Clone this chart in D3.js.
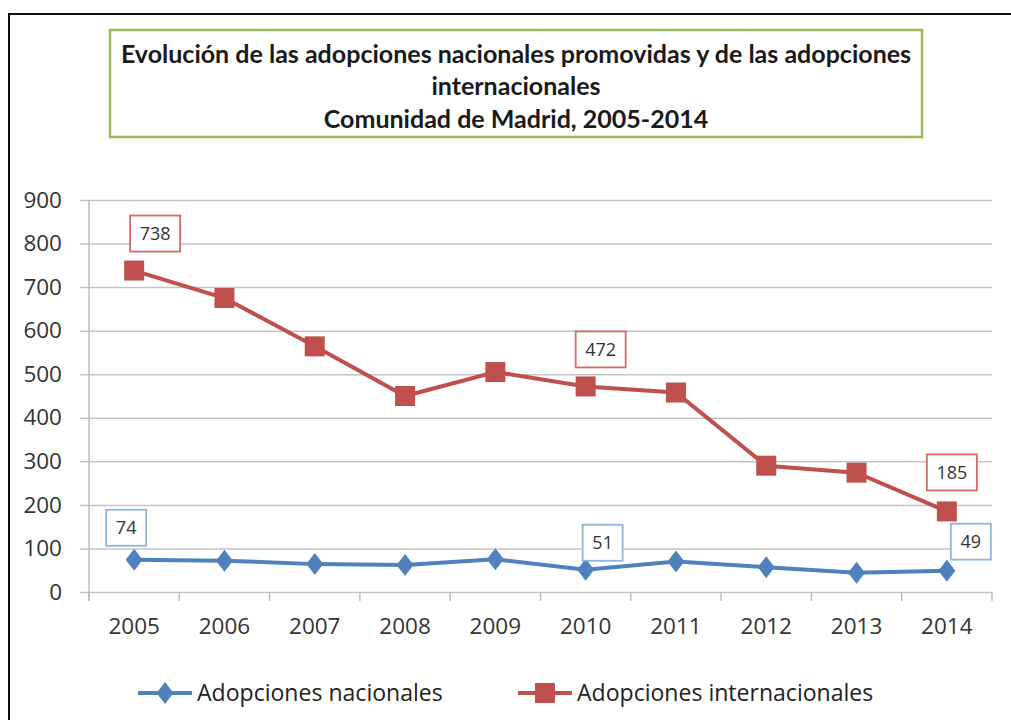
<!DOCTYPE html>
<html>
<head>
<meta charset="utf-8">
<script src="https://cdn.jsdelivr.net/npm/d3@7"></script>
<style>
  body { margin: 0; background: #fff; }
  svg { display: block; font-family: "Open Sans", sans-serif; }
</style>
</head>
<body>
<div id="chart"></div>
<script>
// data
var years = ["2005", "2006", "2007", "2008", "2009", "2010", "2011", "2012", "2013", "2014"];
var nacionales = [74, 72, 64, 62, 75, 51, 70, 57, 44, 49];
var internacionales = [738, 675, 564, 450, 505, 472, 458, 290, 274, 185];
var yTicks = [0, 100, 200, 300, 400, 500, 600, 700, 800, 900];
var titleLines = [
    "Evolución de las adopciones nacionales promovidas y de las adopciones",
    "internacionales",
    "Comunidad de Madrid, 2005-2014"
];
var seriesNames = ["Adopciones nacionales", "Adopciones internacionales"];

// which points get a boxed label, and where the box sits relative to the point
var labelNac = [{ i: 0, dx: -8, dy: -32 }, { i: 5, dx: 17, dy: -27 }, { i: 9, dx: 24, dy: -29 }];
var labelInt = [{ i: 0, dx: 21, dy: -37 }, { i: 5, dx: 15, dy: -37 }, { i: 9, dx: 5, dy: -39 }];

var width = 1011, height = 720;
var blue = "#4f81bd", red = "#c0504d";

var svg = d3.select("#chart").append("svg")
    .attr("width", width)
    .attr("height", height);

//outer frame (runs off the right and bottom edge)
svg.append("rect")
    .attr("x", 9).attr("y", 14)
    .attr("width", 1020).attr("height", 730)
    .attr("fill", "none")
    .attr("stroke", "#111")
    .attr("stroke-width", 2);

//title box
svg.append("rect")
    .attr("x", 110).attr("y", 30)
    .attr("width", 812).attr("height", 107)
    .attr("fill", "#fff")
    .attr("stroke", "#9bbb59")
    .attr("stroke-width", 2.5);

var title = svg.append("g").selectAll("text")
    .data(titleLines)
    .enter()
    .append("text")
    .attr("x", 516)
    .attr("y", (d, i) => [63, 95, 128][i])
    .attr("text-anchor", "middle")
    .attr("font-weight", "bold")
    .attr("fill", "#1a1a1a")
    .style("font-family", "Lato")
    .style("font-size", "20px")
    .text(d => d);

//shrink / grow title so the first line is as wide as in the picture
var firstLen = title.nodes()[0].getComputedTextLength();
title.style("font-size", (20 * 791 / firstLen) + "px");

//scales
var x = d3.scaleBand().domain(years).range([89, 992]);
var y = d3.scaleLinear().domain([0, 900]).range([592, 200]);
var cx = d => x(d) + x.bandwidth() / 2;

//grid + y labels
var yAxis = svg.append("g")
    .attr("transform", "translate(80,0)")
    .call(d3.axisLeft(y).tickValues(yTicks).tickSize(-(992 - 80)).tickPadding(18));
yAxis.select(".domain").remove();
yAxis.selectAll("line").attr("stroke", "#c4c4c4").attr("stroke-width", 1.5);
yAxis.selectAll("text")
    .attr("fill", "#333")
    .style("font-size", "22.5px")
    .style("font-family", "Open Sans");

//vertical axis line
svg.append("line")
    .attr("x1", 89).attr("x2", 89)
    .attr("y1", y(900)).attr("y2", 601)
    .attr("stroke", "#bdbdbd").attr("stroke-width", 1.5);

//x axis labels
var xAxis = svg.append("g")
    .attr("transform", "translate(0," + y(0) + ")")
    .call(d3.axisBottom(x).tickSize(0).tickPadding(26));
xAxis.select(".domain").remove();
xAxis.selectAll("text")
    .attr("fill", "#333")
    .style("font-size", "22.5px")
    .style("font-family", "Open Sans");

//category boundary ticks
var bounds = years.map(d => x(d)).concat([x.range()[1]]);
svg.append("g").selectAll("line")
    .data(bounds)
    .enter()
    .append("line")
    .attr("x1", d => d).attr("x2", d => d)
    .attr("y1", y(0)).attr("y2", y(0) + 9)
    .attr("stroke", "#bdbdbd").attr("stroke-width", 1.5);

var line = d3.line()
    .x((d, i) => cx(years[i]))
    .y(d => y(d));

function diamond(w, h) {
    return "M0," + (-h / 2) + "L" + (w / 2) + ",0L0," + (h / 2) + "L" + (-w / 2) + ",0Z";
}

//national series
svg.append("path")
    .datum(nacionales)
    .attr("d", line)
    .attr("fill", "none")
    .attr("stroke", blue)
    .attr("stroke-width", 4);

svg.append("g").selectAll("path")
    .data(nacionales)
    .enter()
    .append("path")
    .attr("d", diamond(17, 22))
    .attr("transform", (d, i) => "translate(" + cx(years[i]) + "," + y(d) + ")")
    .attr("fill", blue);

//international series
svg.append("path")
    .datum(internacionales)
    .attr("d", line)
    .attr("fill", "none")
    .attr("stroke", red)
    .attr("stroke-width", 4);

svg.append("g").selectAll("rect")
    .data(internacionales)
    .enter()
    .append("rect")
    .attr("x", (d, i) => cx(years[i]) - 10)
    .attr("y", d => y(d) - 10)
    .attr("width", 20).attr("height", 20)
    .attr("fill", red);

//boxed data labels
function addLabels(list, values, boxColor, w) {
    var g = svg.append("g").selectAll("g")
        .data(list)
        .enter()
        .append("g")
        .attr("transform", d => "translate(" + (cx(years[d.i]) + d.dx) + "," + (y(values[d.i]) + d.dy) + ")");
    g.append("rect")
        .attr("x", -w / 2).attr("y", -18)
        .attr("width", w).attr("height", 36)
        .attr("fill", "#fff")
        .attr("stroke", boxColor)
        .attr("stroke-width", 1.8);
    g.append("text")
        .attr("text-anchor", "middle")
        .attr("dy", "0.35em")
        .attr("fill", "#333")
        .style("font-size", "18px")
        .text(d => values[d.i]);
}
addLabels(labelInt, internacionales, "#d46a67", 50);
addLabels(labelNac, nacionales, "#8fb4e0", 40);

//legend
var legend = svg.append("g");
var legX = [138, 518];
legend.selectAll("line")
    .data(seriesNames)
    .enter()
    .append("line")
    .attr("x1", (d, i) => legX[i]).attr("x2", (d, i) => legX[i] + 54)
    .attr("y1", 693).attr("y2", 693)
    .attr("stroke", (d, i) => i ? red : blue)
    .attr("stroke-width", 4);
legend.append("path")
    .attr("d", diamond(17, 22))
    .attr("transform", "translate(" + (legX[0] + 27) + ",693)")
    .attr("fill", blue);
legend.append("rect")
    .attr("x", legX[1] + 17).attr("y", 683)
    .attr("width", 20).attr("height", 20)
    .attr("fill", red);
var legText = legend.selectAll("text")
    .data(seriesNames)
    .enter()
    .append("text")
    .attr("x", (d, i) => legX[i] + 59)
    .attr("y", 701)
    .attr("fill", "#222")
    .style("font-size", "22px")
    .text(d => d);
var legLen = legText.nodes()[0].getComputedTextLength();
legText.style("font-size", (22 * 246 / legLen) + "px");
</script>
</body>
</html>
